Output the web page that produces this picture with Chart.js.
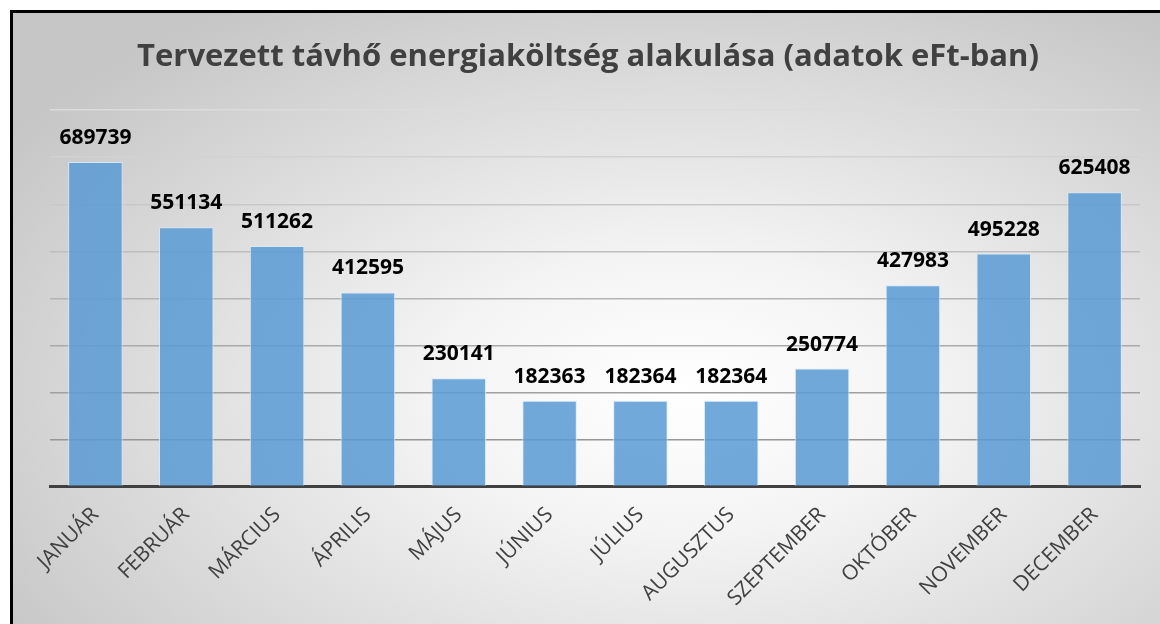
<!DOCTYPE html>
<html>
<head>
<meta charset="utf-8">
<script src="https://cdn.jsdelivr.net/npm/chart.js@4"></script>
<style>
    body { margin: 0; background: #ffffff; overflow: hidden; }
    #frame {
        position: absolute; left: 10px; top: 10px;
        width: 1150px; height: 614px;
        border-left: 3px solid #000; border-top: 3px solid #000;
        background: radial-gradient(ellipse 70% 75% at 58% 62%, #ffffff 0%, #f4f4f4 30%, #c6c6c6 100%);
    }
    #wrap { position: relative; width: 1147px; height: 611px; }
</style>
</head>
<body>
<div id="frame"><div id="wrap"><canvas id="bar-chart"></canvas></div></div>
<script>
// honapok es ertekek (eFt)
const months = ['JANUÁR', 'FEBRUÁR', 'MÁRCIUS', 'ÁPRILIS', 'MÁJUS', 'JÚNIUS', 'JÚLIUS', 'AUGUSZTUS', 'SZEPTEMBER', 'OKTÓBER', 'NOVEMBER', 'DECEMBER'];
const costs = [689739, 551134, 511262, 412595, 230141, 182363, 182364, 182364, 250774, 427983, 495228, 625408];
const titleText = 'Tervezett távhő energiaköltség alakulása (adatok eFt-ban)';

// value labels above the bars
const barLabels = {
    id: 'barLabels',
    afterDatasetsDraw: function (chart) {
        const ctx = chart.ctx;
        const meta = chart.getDatasetMeta(0);
        ctx.save();
        ctx.font = 'bold 21px "Open Sans"';
        ctx.fillStyle = '#000000';
        ctx.textAlign = 'center';
        ctx.textBaseline = 'alphabetic';
        meta.data.forEach(function (bar, i) {
            ctx.fillText(String(costs[i]), bar.x, bar.y - 18);
        });
        ctx.restore();
    }
};

const ctx = document.getElementById('bar-chart').getContext('2d');
const barChart = new Chart(ctx, {
    type: 'bar',
    data: {
        labels: months,
        datasets: [{
            data: costs,
            backgroundColor: 'rgba(91, 155, 213, 0.86)',
            borderColor: 'rgba(215, 232, 247, 0.9)',
            borderWidth: 1,
            barPercentage: 0.6,
            categoryPercentage: 1.0
        }]
    },
    options: {
        responsive: true,
        maintainAspectRatio: false,
        animation: false,
        layout: { padding: { left: 23, right: 20, top: 0, bottom: 5 } },
        plugins: {
            legend: { display: false },
            tooltip: { enabled: false },
            title: {
                display: true,
                text: titleText,
                color: '#404040',
                font: { family: 'Open Sans', size: 31, weight: 'bold' },
                padding: { top: 26, bottom: 34 }
            }
        },
        scales: {
            x: {
                grid: { display: false },
                border: { display: true, color: '#404040', width: 3 },
                ticks: {
                    color: '#404040',
                    font: { family: 'Open Sans', size: 21 },
                    minRotation: 45,
                    maxRotation: 45,
                    padding: 8
                }
            },
            y: {
                min: 0,
                max: 800000,
                afterFit: function (axis) { axis.width = 14; },
                ticks: { display: false, stepSize: 100000 },
                border: { display: false },
                grid: {
                    drawTicks: false,
                    lineWidth: 1.5,
                    color: function (c) {
                        const v = c.tick ? c.tick.value : 0;
                        const g = Math.round(140 + (v / 800000) * 80);
                        return 'rgb(' + g + ',' + g + ',' + g + ')';
                    }
                }
            }
        }
    },
    plugins: [barLabels]
});
</script>
</body>
</html>
